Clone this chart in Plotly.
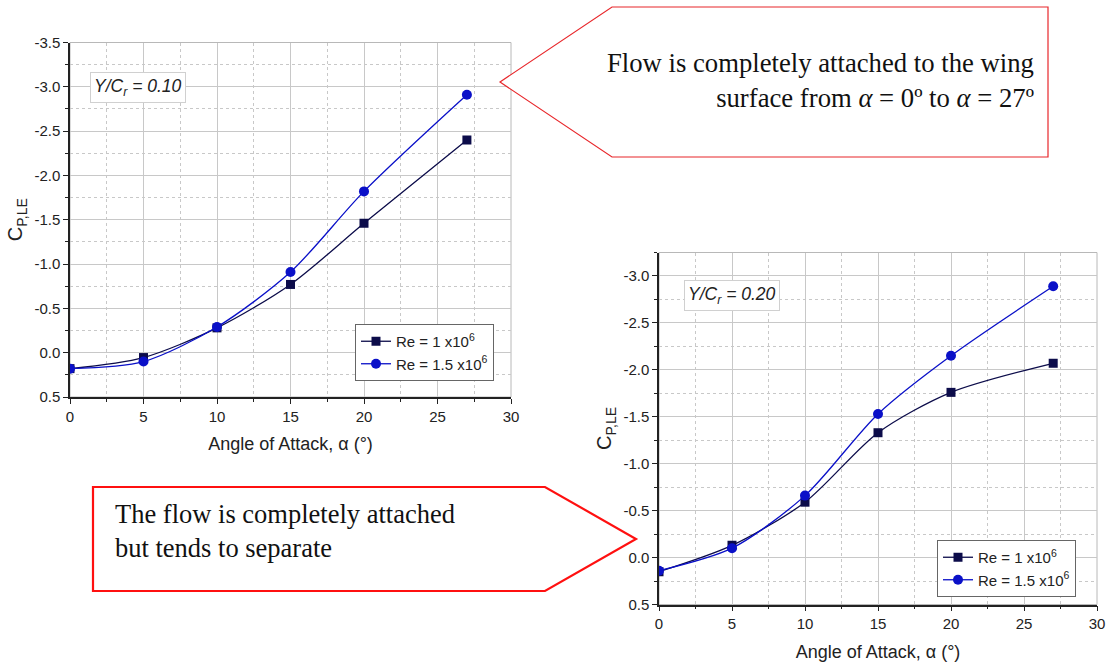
import plotly.graph_objects as go

# ---------------- data ----------------
alpha = [0, 5, 10, 15, 20, 27]
# Y/Cr = 0.10
cp1_re1 = [0.18, 0.055, -0.28, -0.77, -1.46, -2.40]
cp1_re15 = [0.18, 0.10, -0.29, -0.91, -1.82, -2.91]
# Y/Cr = 0.20
cp2_re1 = [0.15, -0.13, -0.59, -1.33, -1.76, -2.07]
cp2_re15 = [0.14, -0.10, -0.66, -1.53, -2.15, -2.89]

series_names = ["Re = 1 x10<sup>6</sup>", "Re = 1.5 x10<sup>6</sup>"]
station_labels = ["<i>Y/C<sub>r</sub> = 0.10</i>", "<i>Y/C<sub>r</sub> = 0.20</i>"]
x_ticks = [0, 5, 10, 15, 20, 25, 30]
y_tickvals = [0.5, 0.0, -0.5, -1.0, -1.5, -2.0, -2.5, -3.0, -3.5]
y_ticktext = ["0.5", "0.0", "-0.5", "-1.0", "-1.5", "-2.0", "-2.5", "-3.0", "-3.5"]
x_title = "Angle of Attack, \u03b1 (\u00b0)"
y_title = "C<sub>P,LE</sub>"
callout1 = ("Flow is completely attached to the wing<br>"
            "surface from <i>\u03b1</i> = 0\u00ba to <i>\u03b1</i> = 27\u00ba")
callout2 = "The flow is completely attached<br>but tends to separate"

W, H = 1109, 666
def px(x):
    return x / W
def py(y):
    return 1 - y / H

C1 = "#0c0c4a"
C2 = "#0a10c8"
SANS = "Arial, Liberation Sans, sans-serif"
SERIF = "Times New Roman, Liberation Serif, serif"

fig = go.Figure()

def add_pair(xa, ya, legend, y_re1, y_re15):
    fig.add_trace(go.Scatter(x=alpha, y=y_re1, mode="lines+markers", name=series_names[0],
                             line=dict(color=C1, width=1.3, shape="spline", smoothing=0.8),
                             marker=dict(symbol="square", size=9, color=C1),
                             xaxis=xa, yaxis=ya, legend=legend))
    fig.add_trace(go.Scatter(x=alpha, y=y_re15, mode="lines+markers", name=series_names[1],
                             line=dict(color=C2, width=1.3, shape="spline", smoothing=0.8),
                             marker=dict(symbol="circle", size=10, color=C2),
                             xaxis=xa, yaxis=ya, legend=legend))

add_pair("x", "y", "legend", cp1_re1, cp1_re15)
add_pair("x2", "y2", "legend2", cp2_re1, cp2_re15)

TICKFONT = dict(family=SANS, size=15, color="#222")

def xaxis_cfg(domain, anchor):
    return dict(domain=domain, range=[0, 30], tickvals=x_ticks, anchor=anchor,
                showline=True, linecolor="#222", linewidth=1.5, mirror=False,
                ticks="outside", ticklen=5, tickcolor="#222",
                showgrid=True, gridcolor="#c8c8c8", gridwidth=1, zeroline=False,
                minor=dict(dtick=2.5, tick0=0, ticks="outside", ticklen=3, tickcolor="#222",
                           showgrid=True, gridcolor="#c8c8c8", griddash="dot"),
                tickfont=TICKFONT,
                title=dict(text=x_title, font=dict(family=SANS, size=18, color="#222"), standoff=14))

def yaxis_cfg(domain, rng, anchor):
    return dict(domain=domain, range=rng, tickvals=y_tickvals, ticktext=y_ticktext,
                anchor=anchor,
                showline=True, linecolor="#222", linewidth=1.5, mirror=False,
                ticks="outside", ticklen=5, tickcolor="#222",
                showgrid=True, gridcolor="#c8c8c8", gridwidth=1, zeroline=False,
                minor=dict(dtick=0.25, tick0=0, ticks="outside", ticklen=3, tickcolor="#222",
                           showgrid=True, gridcolor="#c8c8c8", griddash="dot"),
                tickfont=TICKFONT,
                title=dict(text=y_title, font=dict(family=SANS, size=20, color="#222"), standoff=6))

x1d = [px(70), px(511)]
y1d = [py(397), py(42.5)]
x2d = [px(659), px(1097)]
y2d = [py(604.5), py(252.5)]

LEGFONT = dict(family=SANS, size=15, color="#222")
fig.update_layout(
    autosize=True, margin=dict(l=0, r=0, t=0, b=0, autoexpand=False),
    paper_bgcolor="white", plot_bgcolor="white",
    xaxis=xaxis_cfg(x1d, "y"), yaxis=yaxis_cfg(y1d, [0.5, -3.5], "x"),
    xaxis2=xaxis_cfg(x2d, "y2"), yaxis2=yaxis_cfg(y2d, [0.5, -3.25], "x2"),
    legend=dict(x=px(355), y=py(324), xanchor="left", yanchor="top",
                bgcolor="white", bordercolor="#666", borderwidth=1,
                font=LEGFONT, tracegroupgap=0, itemwidth=30),
    legend2=dict(x=px(937), y=py(540), xanchor="left", yanchor="top",
                 bgcolor="white", bordercolor="#666", borderwidth=1,
                 font=LEGFONT, tracegroupgap=0, itemwidth=30),
    showlegend=True,
)

# gray frame around plot areas
for xr, yr in (("x domain", "y domain"), ("x2 domain", "y2 domain")):
    fig.add_shape(type="rect", xref=xr, yref=yr, x0=0, x1=1, y0=0, y1=1,
                  line=dict(color="#b8b8b8", width=1), layer="below")

# station label boxes
fig.add_annotation(xref="paper", yref="paper", x=px(138), y=py(87.5), text=station_labels[0],
                   xanchor="center", yanchor="middle",
                   showarrow=False, font=dict(family=SANS, size=17.5, color="#222"),
                   bgcolor="white", bordercolor="#d0d0d0", borderwidth=1, borderpad=3)
fig.add_annotation(xref="paper", yref="paper", x=px(731.5), y=py(295.5), text=station_labels[1],
                   xanchor="center", yanchor="middle",
                   showarrow=False, font=dict(family=SANS, size=17.5, color="#222"),
                   bgcolor="white", bordercolor="#d0d0d0", borderwidth=1, borderpad=3)

# callout shapes
def path(points):
    return "M " + " L ".join(f"{px(a):.5f},{py(b):.5f}" for a, b in points) + " Z"

fig.add_shape(type="path", xref="paper", yref="paper",
              path=path([(500, 82), (612, 7), (1048, 7), (1048, 157), (612, 157)]),
              line=dict(color="#e8262a", width=1.2), fillcolor="white")
fig.add_shape(type="path", xref="paper", yref="paper",
              path=path([(93, 487), (545, 487), (636, 539), (545, 591), (93, 591)]),
              line=dict(color="#ff1010", width=2.2), fillcolor="white")

fig.add_annotation(xref="paper", yref="paper", x=px(1036), y=py(81), text=callout1,
                   xanchor="right", yanchor="middle", align="right", showarrow=False,
                   font=dict(family=SERIF, size=26.7, color="#111"))
fig.add_annotation(xref="paper", yref="paper", x=px(113), y=py(531), text=callout2,
                   xanchor="left", yanchor="middle", align="left", showarrow=False,
                   font=dict(family=SERIF, size=26.5, color="#111"))

fig.write_html("out.html",
               config={"displayModeBar": False, "responsive": True},
               default_width="100vw", default_height="100vh",
               post_script=("document.body.style.margin='0px';"
                            "document.body.style.overflow='hidden';"
                            "Plotly.Plots.resize(document.getElementById('{plot_id}'));"))
